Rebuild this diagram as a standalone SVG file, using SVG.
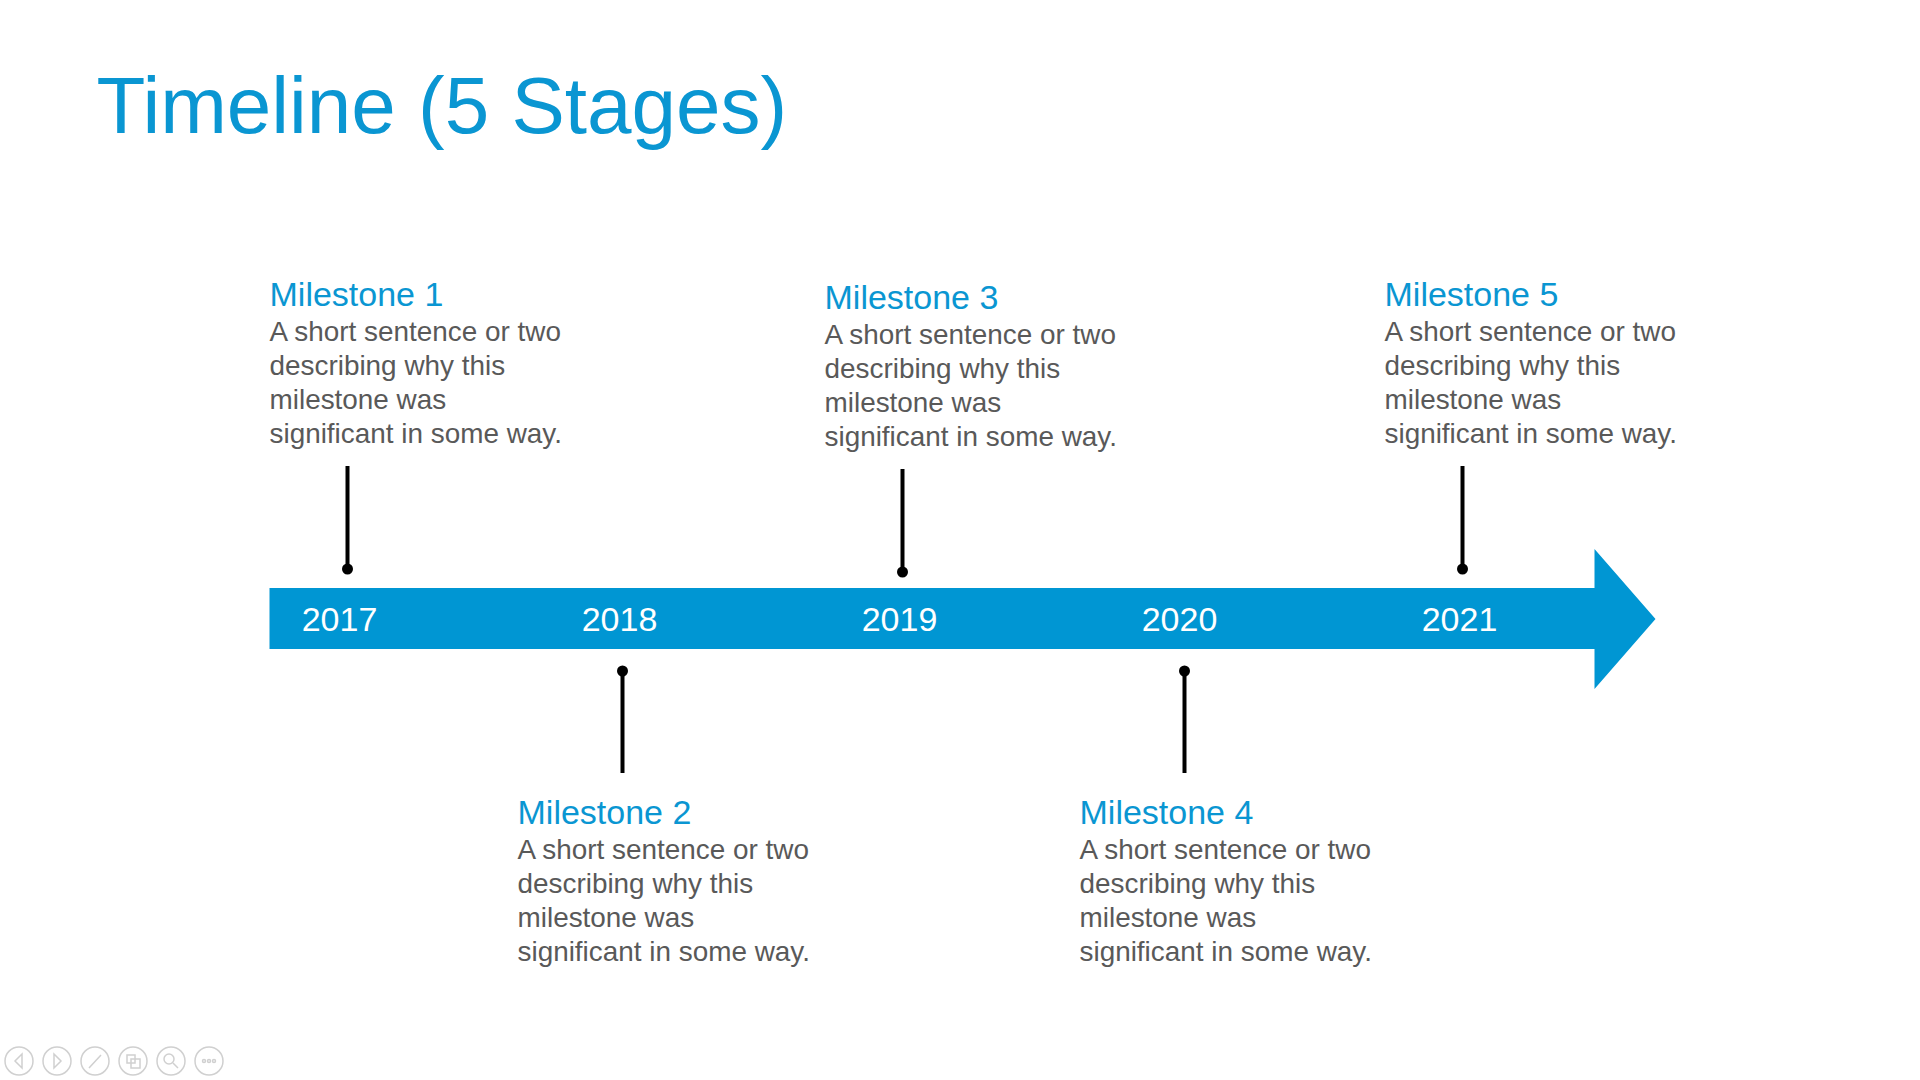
<svg xmlns="http://www.w3.org/2000/svg" width="1920" height="1080" viewBox="0 0 1920 1080">
<style>
.t{font-family:"Liberation Sans",Arial,sans-serif}
.h{fill:#0A96D2;font-size:34px}
.b{fill:#595959;font-size:27.9px}
.y{fill:#fff;font-size:34px}
.s{stroke:#000;stroke-width:4}
</style>
<rect width="1920" height="1080" fill="#fff"/>
<g transform="translate(-0.5,-1)">
<text class="t" x="97" y="134" font-size="80" fill="#0A96D2">Timeline (5 Stages)</text>
<g id="bar">
<path d="M270 589H1595V550L1656 620L1595 690V650H270Z" fill="#0096D3"/>
<text class="t y" x="340" y="632" text-anchor="middle">2017</text>
<text class="t y" x="620" y="632" text-anchor="middle">2018</text>
<text class="t y" x="900" y="632" text-anchor="middle">2019</text>
<text class="t y" x="1180" y="632" text-anchor="middle">2020</text>
<text class="t y" x="1460" y="632" text-anchor="middle">2021</text>
</g>
<g id="connectors">
<line class="s" x1="348" y1="467" x2="348" y2="569"/><circle cx="348" cy="570" r="5.5"/>
<line class="s" x1="903" y1="470" x2="903" y2="572"/><circle cx="903" cy="573" r="5.5"/>
<line class="s" x1="1463" y1="467" x2="1463" y2="569"/><circle cx="1463" cy="570" r="5.5"/>
<line class="s" x1="623" y1="672" x2="623" y2="774"/><circle cx="623" cy="672" r="5.5"/>
<line class="s" x1="1185" y1="672" x2="1185" y2="774"/><circle cx="1185" cy="672" r="5.5"/>
</g>
<g id="m1" class="t"><text class="h" x="270" y="307">Milestone 1</text>
<text class="b" x="270" y="342">A short sentence or two</text><text class="b" x="270" y="376">describing why this</text><text class="b" x="270" y="410">milestone was</text><text class="b" x="270" y="444">significant in some way.</text></g>
<g id="m3" class="t"><text class="h" x="825" y="310">Milestone 3</text>
<text class="b" x="825" y="345">A short sentence or two</text><text class="b" x="825" y="379">describing why this</text><text class="b" x="825" y="413">milestone was</text><text class="b" x="825" y="447">significant in some way.</text></g>
<g id="m5" class="t"><text class="h" x="1385" y="307">Milestone 5</text>
<text class="b" x="1385" y="342">A short sentence or two</text><text class="b" x="1385" y="376">describing why this</text><text class="b" x="1385" y="410">milestone was</text><text class="b" x="1385" y="444">significant in some way.</text></g>
<g id="m2" class="t"><text class="h" x="518" y="825">Milestone 2</text>
<text class="b" x="518" y="860">A short sentence or two</text><text class="b" x="518" y="894">describing why this</text><text class="b" x="518" y="928">milestone was</text><text class="b" x="518" y="962">significant in some way.</text></g>
<g id="m4" class="t"><text class="h" x="1080" y="825">Milestone 4</text>
<text class="b" x="1080" y="860">A short sentence or two</text><text class="b" x="1080" y="894">describing why this</text><text class="b" x="1080" y="928">milestone was</text><text class="b" x="1080" y="962">significant in some way.</text></g>
</g>
<g id="toolbar" fill="none" stroke="#d0d0d0" stroke-width="1.5">
<circle cx="19" cy="1061" r="14"/><circle cx="57" cy="1061" r="14"/><circle cx="95" cy="1061" r="14"/><circle cx="133" cy="1061" r="14"/><circle cx="171" cy="1061" r="14"/><circle cx="209" cy="1061" r="14"/>
<path d="M22 1054L15 1061L22 1068Z M54 1054L61 1061L54 1068Z M89 1068L101 1055"/>
<rect x="127" y="1055" width="8" height="8"/><rect x="131" y="1059" width="9" height="9"/>
<circle cx="169" cy="1059" r="5"/><path d="M173 1063L178 1068"/>
<circle cx="204" cy="1061" r="1.5"/><circle cx="209" cy="1061" r="1.5"/><circle cx="214" cy="1061" r="1.5"/>
</g>
</svg>
